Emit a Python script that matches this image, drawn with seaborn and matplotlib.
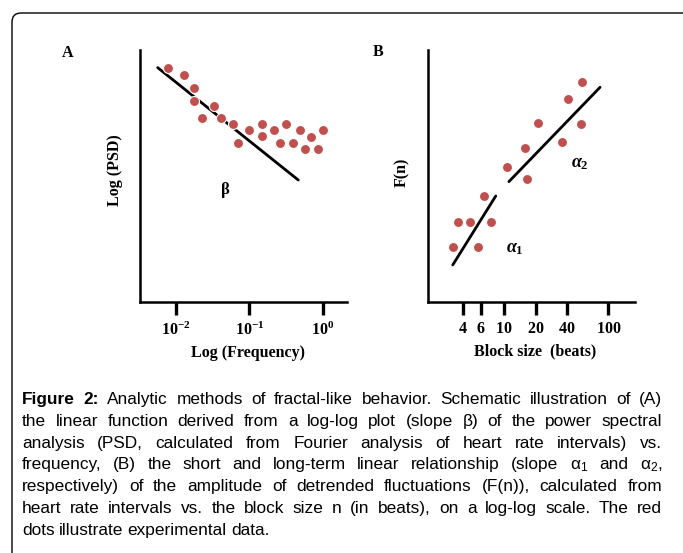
import matplotlib
matplotlib.use("Agg")
import matplotlib.pyplot as plt
import seaborn as sns
import pandas as pd
from matplotlib import font_manager
from matplotlib.patches import FancyBboxPatch
from matplotlib.ticker import NullLocator

# Panel A: log(PSD) vs log(frequency), schematic values (arbitrary units)
psd_freq = [0.0079, 0.013, 0.0177, 0.0177, 0.0228, 0.0329, 0.0406, 0.059, 0.069, 0.0993,
            0.1465, 0.1465, 0.215, 0.26, 0.317, 0.387, 0.486, 0.569, 0.687, 0.863, 1.01]
psd_val = [92.7, 90.1, 85.0, 79.9, 72.9, 77.8, 72.9, 70.6, 63.0, 68.3,
           70.5, 65.9, 68.3, 63.0, 70.5, 63.2, 68.3, 60.6, 65.6, 60.6, 68.3]
beta_freq = [0.00564, 0.461]
beta_val = [93.0, 48.4]
freq_ticks = [0.01, 0.1, 1]
freq_labels = [r"$10^{-2}$", r"$10^{-1}$", r"$10^{0}$"]

# Panel B: F(n) vs block size n
block_n = [3.25, 3.58, 4.70, 5.57, 6.40, 7.43, 10.6, 15.8, 16.7, 21.0, 35.7, 41.3, 54.3, 55.5]
fn_val = [21.9, 31.8, 31.8, 21.9, 42.0, 31.8, 53.6, 61.2, 48.6, 70.9, 63.6, 80.4, 70.5, 87.4]
alpha1_n = [3.21, 8.30]
alpha1_val = [14.6, 42.0]
alpha2_n = [11.1, 83.2]
alpha2_val = [47.7, 85.2]
block_ticks = [4, 6, 10, 20, 40, 100]

caption_lines = [
    "Figure 2: Analytic methods of fractal-like behavior. Schematic illustration of (A)",
    "the linear function derived from a log-log plot (slope β) of the power spectral",
    "analysis (PSD, calculated from Fourier analysis of heart rate intervals) vs.",
    r"frequency, (B) the short and long-term linear relationship (slope α$_\mathregular{1}$ and α$_\mathregular{2}$,",
    "respectively) of the amplitude of detrended fluctuations (F(n)), calculated from",
    "heart rate intervals vs. the block size n (in beats), on a log-log scale. The red",
    "dots illustrate experimental data.",
]

DOT = "#c0504d"
W, H = 683, 553

sns.set_style("white")
plt.rcParams["font.family"] = ["Liberation Serif", "DejaVu Serif"]
plt.rcParams["text.color"] = "black"
plt.rcParams["axes.labelcolor"] = "black"
plt.rcParams["xtick.color"] = "black"
plt.rcParams["mathtext.fontset"] = "custom"
plt.rcParams["mathtext.rm"] = "Liberation Serif:bold"
plt.rcParams["mathtext.it"] = "Liberation Serif:italic:bold"
plt.rcParams["mathtext.bf"] = "Liberation Serif:bold"

names = {f.name for f in font_manager.fontManager.ttflist}
if "Liberation Sans Narrow" in names:
    cap_font, cap_size = "Liberation Sans Narrow", 13
else:
    cap_font, cap_size = "Liberation Sans", 12.4

fig = plt.figure(figsize=(W / 100, H / 100), dpi=100)


def px_axes(left, top, right, bottom):
    return fig.add_axes([left / W, 1 - bottom / H, (right - left) / W, (bottom - top) / H])


def style_axes(ax):
    for side in ["top", "right"]:
        ax.spines[side].set_visible(False)
    for side in ["left", "bottom"]:
        ax.spines[side].set_linewidth(1.8)
        ax.spines[side].set_color("black")
    ax.set_xscale("log")
    ax.xaxis.set_minor_locator(NullLocator())
    ax.set_yticks([])
    ax.tick_params(axis="x", direction="out", length=9, width=2.4, pad=5,
                   labelsize=11.5, bottom=True, colors="black")
    ax.set_ylim(0, 100)


# ---- Panel A
axA = px_axes(140, 50, 347, 302)
sns.lineplot(x=beta_freq, y=beta_val, ax=axA, color="black", lw=2)
sns.scatterplot(x=psd_freq, y=psd_val, ax=axA, color=DOT, s=52, edgecolor="white",
                linewidth=0.8, zorder=3)
style_axes(axA)
axA.set_xlim(0.00324, 2.12)
axA.set_xticks(freq_ticks)
axA.set_xticklabels(freq_labels)
axA.set_xlabel("Log (Frequency)", fontsize=11.5, fontweight="bold", va="center")
axA.xaxis.set_label_coords(0.522, -0.202)
axA.set_ylabel("Log (PSD)", fontsize=11.5, fontweight="bold", va="center")
axA.yaxis.set_label_coords(-0.121, 0.524)
axA.text(0.0474, 44.4, "β", fontsize=12, fontweight="bold", ha="center", va="center")

# ---- Panel B
axB = px_axes(428.3, 50, 635, 301.7)
sns.lineplot(x=alpha1_n, y=alpha1_val, ax=axB, color="black", lw=2)
sns.lineplot(x=alpha2_n, y=alpha2_val, ax=axB, color="black", lw=2)
sns.scatterplot(x=block_n, y=fn_val, ax=axB, color=DOT, s=52, edgecolor="white",
                linewidth=0.8, zorder=3)
style_axes(axB)
axB.set_xlim(1.87, 180)
axB.set_xticks(block_ticks)
axB.set_xticklabels([rf"$\mathbf{{{t}}}$" for t in block_ticks])
axB.set_xlabel("Block size  (beats)", fontsize=11.5, fontweight="bold", va="center")
axB.xaxis.set_label_coords(0.516, -0.196)
axB.set_ylabel("F(n)", fontsize=11.5, fontweight="bold", va="center")
axB.yaxis.set_label_coords(-0.127, 0.515)
axB.text(12.7, 21.2, r"$\alpha_1$", fontsize=13, ha="center", va="center")
axB.text(53.5, 55.0, r"$\alpha_2$", fontsize=13, ha="center", va="center")

# panel letters
fig.text(68 / W, 1 - 53 / H, "A", fontsize=11.5, fontweight="bold", ha="center", va="center")
fig.text(378 / W, 1 - 52 / H, "B", fontsize=11.5, fontweight="bold", ha="center", va="center")

# frame: top and left edges with rounded corner
frame = FancyBboxPatch((0.12, -1.0), 8.0, 1.0 + (H - 13) / 100,
                       boxstyle="round,pad=0,rounding_size=0.09",
                       transform=fig.dpi_scale_trans, fill=False, lw=1.0,
                       edgecolor="black", clip_on=False)
fig.add_artist(frame)

# justified caption
renderer = fig.canvas.get_renderer()
cap_left, cap_right = 22, 662
base0, step = 404, 21.8
for i, line in enumerate(caption_lines):
    y = 1 - (base0 + i * step) / H
    words = line.split(" ")
    texts = []
    for j, wd in enumerate(words):
        bold = i == 0 and j < 2
        texts.append(fig.text(0, y, wd, fontsize=cap_size, family=cap_font,
                              fontweight="bold" if bold else "normal",
                              ha="left", va="baseline", color="black"))
    widths = [t.get_window_extent(renderer).width for t in texts]
    if i < len(caption_lines) - 1:
        gap = (cap_right - cap_left - sum(widths)) / (len(words) - 1)
    else:
        gap = cap_size * 100 / 72 * 0.25
    x = cap_left
    for t, wd in zip(texts, widths):
        t.set_x(x / W)
        x += wd + gap

fig.savefig("out.png", dpi=100)
